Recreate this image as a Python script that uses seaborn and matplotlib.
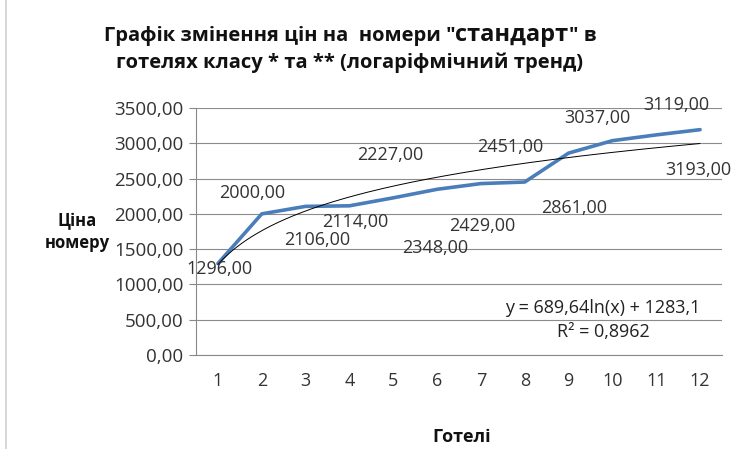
import numpy as np
import pandas as pd
import seaborn as sns
import matplotlib
matplotlib.use("Agg")
import matplotlib.pyplot as plt
from matplotlib.patches import FancyBboxPatch
from matplotlib.ticker import FuncFormatter, MultipleLocator

hotels = [1, 2, 3, 4, 5, 6, 7, 8, 9, 10, 11, 12]
prices = [1296, 2000, 2106, 2114, 2227, 2348, 2429, 2451, 2861, 3037, 3119, 3193]
# label offsets in pixels (dx, dy) relative to each point
label_dx = [2, -10, 12, 6, -3, -2, 1, -14, 6, -15, 20, -2]
label_dy = [-5, 21, -34, -16, 43, -59, -42, 35, -55, 23, 30, -40]

sns.set_style("white")
plt.rcParams['font.family'] = ['Open Sans', 'DejaVu Sans']

df = pd.DataFrame({"hotel": hotels, "price": prices})

fig = plt.figure(figsize=(7.39, 4.49), dpi=100)
ax = fig.add_axes([196/739, 1-355/449, (722-196)/739, (355-108)/449])

sns.lineplot(data=df, x="hotel", y="price", ax=ax, color="#4A7EBB", lw=2.6, zorder=3)

# logarithmic trend
coef = np.polyfit(np.log(df["hotel"]), df["price"], 1)
xs = np.linspace(1, 12, 200)
ax.plot(xs, coef[0]*np.log(xs) + coef[1], color="black", lw=0.7, zorder=4)

ax.set_xlim(0.5, 12.5)
ax.set_ylim(0, 3500)
ax.yaxis.set_major_locator(MultipleLocator(500))
ax.yaxis.set_major_formatter(FuncFormatter(lambda v, p: f"{v:.2f}".replace(".", ",")))
ax.set_xticks(hotels)
ax.set_xticks(np.arange(0.5, 13, 1), minor=True)
ax.tick_params(axis="x", which="major", length=0, pad=12, labelsize=13, labelcolor="#333333")
ax.tick_params(axis="x", which="minor", length=5, color="#888888", width=0.8)
ax.tick_params(axis="y", which="major", length=5, color="#888888", width=0.8, labelsize=13.5,
               labelcolor="#333333", pad=4, left=True)
ax.grid(axis="y", color="#8c8c8c", lw=0.8)
for s in ["top", "right"]:
    ax.spines[s].set_visible(False)
for s in ["left", "bottom"]:
    ax.spines[s].set_color("#888888")
    ax.spines[s].set_linewidth(0.8)
ax.set_xlabel("")
ax.set_ylabel("")

for x, y, dx, dy in zip(hotels, prices, label_dx, label_dy):
    ax.annotate(f"{y:.2f}".replace(".", ","), (x, y), xytext=(dx*0.72, dy*0.72),
                textcoords="offset points", ha="center", va="center",
                fontsize=13, color="#333333", zorder=5)

# title line 1 with larger "стандарт"
fig.canvas.draw()
renderer = fig.canvas.get_renderer()
parts = [('Графік змінення цін на  номери "', 14.5), ('стандарт', 17), ('" в', 14.5)]
texts = []
total = 0
for s, fs in parts:
    t = fig.text(0, 1-35/449, s, ha="left", va="baseline", fontsize=fs,
                 fontweight="bold", color="#111111")
    w = t.get_window_extent(renderer).width
    texts.append((t, w))
    total += w
x0 = 350 - total/2
base_y = 1-41/449
for t, w in texts:
    t.set_position((x0/739, base_y))
    x0 += w
fig.text(350/739, 1-63/449, 'готелях класу * та ** (логаріфмічний тренд)',
         ha="center", va="center", fontsize=14.5, fontweight="bold", color="#111111")

fig.text(77/739, 1-232/449, "Ціна\nномеру", ha="center", va="center",
         fontsize=12, fontweight="bold", linespacing=1.3, color="#111111")
fig.text(462/739, 1-437/449, "Готелі", ha="center", va="center",
         fontsize=13, fontweight="bold", color="#111111")

fig.text(603/739, 1-308/449, "y = 689,64ln(x) + 1283,1", ha="center", va="center",
         fontsize=13, color="#222222")
fig.text(603/739, 1-332/449, "R² = 0,8962", ha="center", va="center",
         fontsize=13, color="#222222")

border = FancyBboxPatch((6/739, -0.05), 1.2, 1.1, boxstyle="round,pad=0,rounding_size=0.01",
                        transform=fig.transFigure, fill=False, edgecolor="#c8c8c8", lw=1)
fig.patches.append(border)

fig.savefig("out.png", dpi=100)
